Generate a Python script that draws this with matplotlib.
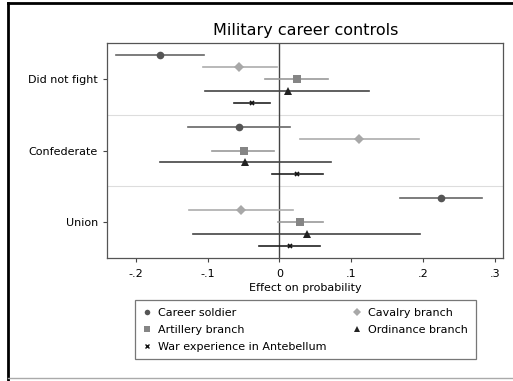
import matplotlib.pyplot as plt
from matplotlib.lines import Line2D

# coefficient estimates with 95% CIs, by group
grupos = ['Did not fight', 'Confederate', 'Union']
series = ['Career soldier', 'Cavalry branch', 'Artillery branch',
          'Ordinance branch', 'War experience in Antebellum']

career = [-0.166, -0.057, 0.225]
career_lo = [-0.227, -0.128, 0.168]
career_hi = [-0.105, 0.015, 0.282]

cavalry = [-0.056, 0.111, -0.054]
cavalry_lo = [-0.107, 0.029, -0.126]
cavalry_hi = [-0.004, 0.194, 0.019]

artillery = [0.024, -0.050, 0.028]
artillery_lo = [-0.020, -0.094, -0.002]
artillery_hi = [0.068, -0.008, 0.060]

ordinance = [0.012, -0.048, 0.038]
ordinance_lo = [-0.103, -0.166, -0.120]
ordinance_hi = [0.125, 0.072, 0.196]

war_exp = [-0.038, 0.025, 0.015]
war_exp_lo = [-0.063, -0.010, -0.028]
war_exp_hi = [-0.013, 0.061, 0.057]

xticks = [-0.2, -0.1, 0, 0.1, 0.2, 0.3]
xticklabels = ['-.2', '-.1', '0', '.1', '.2', '.3']

datos = [(career, career_lo, career_hi),
         (cavalry, cavalry_lo, cavalry_hi),
         (artillery, artillery_lo, artillery_hi),
         (ordinance, ordinance_lo, ordinance_hi),
         (war_exp, war_exp_lo, war_exp_hi)]
marcadores = ['o', 'D', 's', '^', 'x']
colores_m = ['#555555', '#a8a8a8', '#858585', '#222222', '#111111']
colores_l = ['#666666', '#adadad', '#999999', '#444444', '#222222']
tamanos = [5.5, 5.5, 5.5, 5.5, 3.5]

fig = plt.figure(figsize=(5.13, 3.81), dpi=100)
ax = fig.add_axes([0.2086, 0.3228, 0.7719, 0.5643])

for k, (est, lo, hi) in enumerate(datos):
    for g in range(len(grupos)):
        y = 6 * g + 1 + k
        ax.plot([lo[g], hi[g]], [y, y], color=colores_l[k], lw=1.2, zorder=2)
        ax.plot(est[g], y, marker=marcadores[k], color=colores_m[k],
                ms=tamanos[k], mew=1.2 if marcadores[k] == 'x' else 0, zorder=3)

ax.axvline(0, color='#444444', lw=1.0, zorder=1)
for s in [6, 12]:
    ax.axhline(s, color='#dddddd', lw=0.8, zorder=0)

ax.set_xlim(-0.240, 0.311)
ax.set_ylim(18, 0)
ax.set_xticks(xticks)
ax.set_xticklabels(xticklabels)
ax.set_yticks([3, 9, 15])
ax.set_yticklabels(grupos)
ax.tick_params(axis='both', labelsize=8, color='#444444', length=3, width=0.8)
ax.tick_params(axis='x', pad=5)
ax.set_xlabel('Effect on probability', fontsize=8, labelpad=3)
for sp in ax.spines.values():
    sp.set_color('#555555')
    sp.set_linewidth(0.9)

fig.text(0.596, 0.92, 'Military career controls', ha='center', va='center', fontsize=11.5)

# legend: markers only
handles = [Line2D([], [], ls='none', marker=marcadores[k], color=colores_m[k],
                  ms=4 if marcadores[k] != 'x' else 3, mew=1 if marcadores[k] == 'x' else 0)
           for k in range(5)]
orden = [0, 2, 4, 1, 3]
leg = fig.legend([handles[i] for i in orden], [series[i] for i in orden],
                 ncol=2, mode='expand', loc='upper left',
                 bbox_to_anchor=(0.2632, 0.05, 0.6647, 0.1626),
                 borderaxespad=0, fontsize=8, frameon=True, fancybox=False,
                 handlelength=0.8, handletextpad=0.6, labelspacing=0.62,
                 borderpad=0.7)
leg.get_frame().set_edgecolor('#555555')
leg.get_frame().set_linewidth(0.9)

# outer frame
fig.add_artist(Line2D([8 / 513, 8 / 513], [0, 1 - 3 / 381], color='black', lw=2, transform=fig.transFigure))
fig.add_artist(Line2D([8 / 513, 1], [1 - 3 / 381, 1 - 3 / 381], color='black', lw=2, transform=fig.transFigure))
fig.add_artist(Line2D([8 / 513, 1], [3 / 381, 3 / 381], color='#aaaaaa', lw=1, transform=fig.transFigure))

fig.savefig('out.png', dpi=100)
